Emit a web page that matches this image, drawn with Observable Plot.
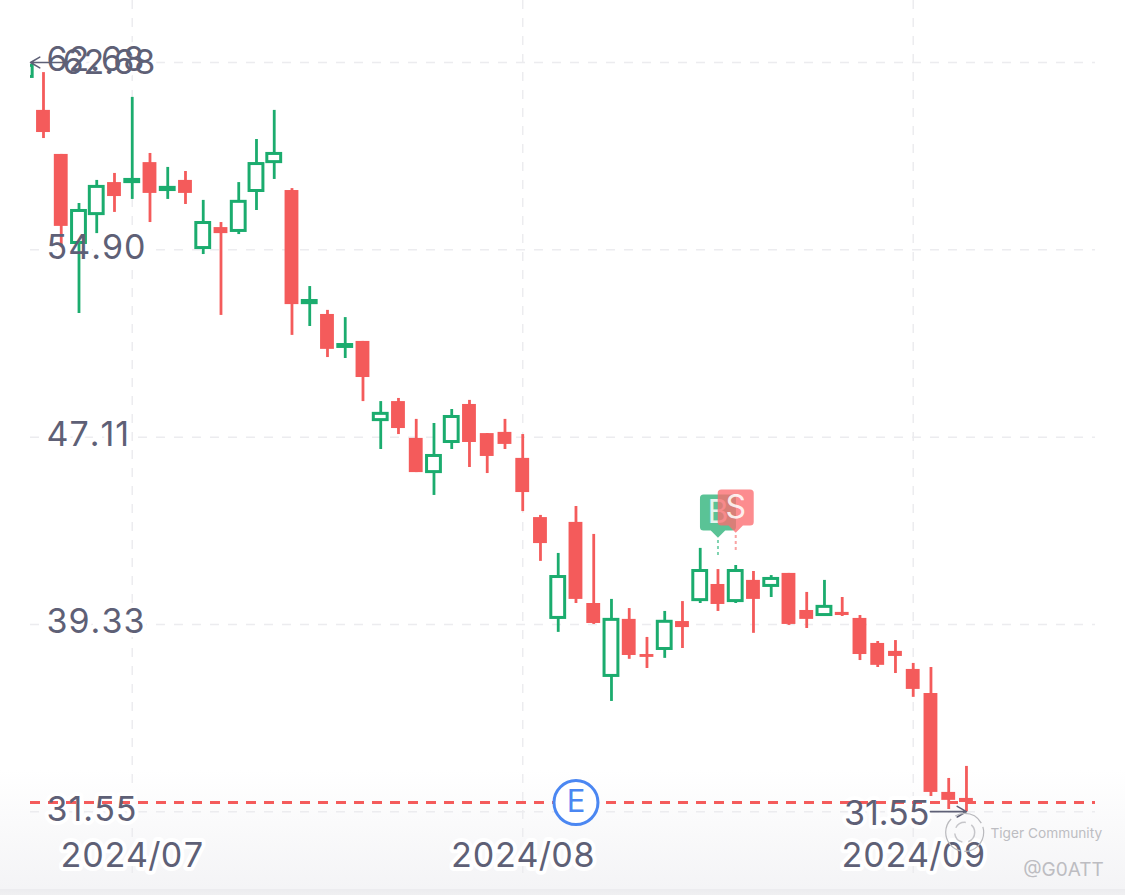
<!DOCTYPE html>
<html><head><meta charset="utf-8">
<script src="https://cdn.jsdelivr.net/npm/d3@7"></script>
<script src="https://cdn.jsdelivr.net/npm/@observablehq/plot@0.6"></script>
<style>
html,body{margin:0;padding:0;width:1125px;height:895px;overflow:hidden;}
body{background:linear-gradient(to bottom,#fff 0,#fff 770px,#f4f4f6 889px,#ececef 889px,#f0f0f2 895px);}
svg{display:block;background:transparent!important;}
[aria-label="y-axis tick label"] text,[aria-label="price label"] text{letter-spacing:1px;font-kerning:none;}
</style></head><body>
<div id="chart"></div>
<script>
const opens=[62.08,60.69,58.86,55.18,56.38,57.69,57.71,58.52,57.38,57.78,54.97,55.82,55.68,57.34,58.54,57.36,52.68,52.21,50.86,51.09,47.82,48.59,47.06,45.66,46.91,48.47,47.26,47.31,46.23,43.77,39.60,43.57,40.20,37.19,39.54,38.08,38.31,39.45,40.34,40.99,40.30,41.16,40.93,41.45,39.91,39.72,39.83,39.58,38.54,38.21,37.46,36.46,32.35,32.10];
const highs=[62.68,62.26,58.86,56.82,57.78,58.07,61.23,58.90,58.32,58.15,56.95,56.03,57.69,59.48,60.69,57.44,53.37,52.38,52.08,51.09,48.59,48.72,47.85,47.68,48.26,48.64,47.26,47.85,47.22,43.86,42.28,44.23,43.07,40.37,39.99,38.79,39.87,40.28,42.49,41.61,41.78,41.53,41.36,41.45,40.66,41.16,40.45,39.70,38.62,38.66,37.71,37.54,32.93,33.43];
const lows=[62.02,59.52,54.99,52.25,55.57,56.45,56.99,56.03,56.99,56.78,54.70,52.17,55.53,56.53,57.82,51.34,51.71,50.42,50.38,48.59,46.60,47.22,45.64,44.69,46.60,45.85,45.60,46.60,44.02,41.95,39.00,40.20,39.33,36.13,37.88,37.50,37.92,38.33,40.20,39.87,40.20,38.96,40.45,39.29,39.16,39.66,39.66,37.83,37.54,37.29,36.30,32.18,31.64,31.55];
const closes=[62.54,59.77,55.87,56.51,57.51,57.11,57.80,57.24,57.47,57.24,56.01,55.57,56.89,58.46,58.88,52.62,52.77,50.76,50.94,49.59,48.08,47.47,45.64,46.33,47.95,46.89,46.31,46.81,44.81,42.69,41.30,40.37,39.37,39.52,38.04,37.96,39.44,39.20,41.55,40.16,41.55,40.37,41.22,39.33,39.54,40.06,39.70,38.08,37.63,38.00,36.63,32.35,32.02,31.93];
const yTicks=[62.68,54.90,47.11,39.33,31.55];
const xTickIndex=[6,28,50];
const xTickLabels=["2024/07","2024/08","2024/09"];
const lastPrice=31.93;
const earnings=[{i:31,price:lastPrice,label:"E"}];
const buy=[{i:39,price:43.98,top:42.82,bottom:42.16,label:"B"}];
const sell=[{i:40,price:44.19,top:43.03,bottom:42.32,label:"S"}];
const highMark=[{from:2.07,to:0.27,price:62.68,label:"62.68"}];
const lowMark=[{from:50.97,to:53,price:31.55,label:"31.55"}];
const watermark=[{i:54.35,price:30.65,label:"Tiger Community",size:13.7},{i:56.2,price:29.15,label:"@G0ATT",size:19}];
const logo=[{i:52.9,price:30.69}];

const RED="#f45b5b",GREEN="#1bac6e",TXT="#5e6076",GRID="#ececef",FONT="Inter, 'Liberation Sans', sans-serif";
const candles=opens.map((o,i)=>({i,open:o,high:highs[i],low:lows[i],close:closes[i]}));
const ups=candles.filter(d=>d.close>d.open), downs=candles.filter(d=>d.close<=d.open);

const badge={draw(ctx,size){
  const r=Math.sqrt(size/Math.PI),c=r*0.2,t=r*0.4;
  ctx.moveTo(-r+c,-r);ctx.lineTo(r-c,-r);ctx.quadraticCurveTo(r,-r,r,-r+c);
  ctx.lineTo(r,r-c);ctx.quadraticCurveTo(r,r,r-c,r);ctx.lineTo(t,r);ctx.lineTo(0,r+t);ctx.lineTo(-t,r);
  ctx.lineTo(-r+c,r);ctx.quadraticCurveTo(-r,r,-r,r-c);ctx.lineTo(-r,-r+c);ctx.quadraticCurveTo(-r,-r,-r+c,-r);ctx.closePath();
}};
const fmt=d3.format(".2f");
const xLab=i=>xTickLabels[xTickIndex.indexOf(i)];
const big={fontSize:34,fontFamily:FONT};
const halo={fill:"#fff",stroke:"#fff",strokeWidth:8};
const yAxisOpts={anchor:"left",tickSize:0,tickPadding:0,textAnchor:"start",dx:16,dy:-2,tickFormat:fmt,label:null,fontVariant:"normal",...big};
const hiOpts={x:"from",y:"price",text:"label",textAnchor:"start",dy:1,ariaLabel:"price label",...big};
const loOpts={x:"from",y:"price",text:"label",textAnchor:"end",dy:2,dx:-1,ariaLabel:"price label",...big};

const plot=Plot.plot({
  width:1125,height:895,marginLeft:30,marginRight:30,marginTop:0,marginBottom:15,
  style:{background:"transparent",fontFamily:FONT},
  x:{type:"linear",domain:[0.268,60.27],axis:null},
  y:{type:"linear",domain:[65.256,28.69],axis:null,range:[0,880]},
  marks:[
    Plot.ruleY(yTicks,{stroke:GRID,strokeWidth:1.5,strokeDasharray:"9 9"}),
    Plot.ruleX(xTickIndex,{stroke:GRID,strokeWidth:1.5,strokeDasharray:"9 9"}),
    // label halos hide the grid but not the candles
    Plot.axisY(yTicks,{...yAxisOpts,fill:"#fff",textStroke:"#fff",textStrokeWidth:8}),
    Plot.axisX(xTickIndex,{anchor:"bottom",tickSize:0,tickPadding:0,dy:-38,tickFormat:xLab,label:null,...big,fill:"#fff",textStroke:"#fff",textStrokeWidth:8}),
    Plot.text(highMark,{...hiOpts,...halo}),
    Plot.text(lowMark,{...loOpts,...halo}),
    // wicks
    Plot.ruleX(downs,{x:"i",y1:"low",y2:"high",stroke:RED,strokeWidth:2.8,clip:"frame"}),
    Plot.ruleX(ups,{x:"i",y1:"low",y2:"high",stroke:GREEN,strokeWidth:2.8,clip:"frame"}),
    // bodies
    Plot.rect(downs,{x1:d=>d.i-0.39,x2:d=>d.i+0.39,y1:"open",y2:"close",fill:RED,clip:"frame"}),
    Plot.rect(ups,{x1:d=>d.i-0.39,x2:d=>d.i+0.39,y1:"open",y2:"close",fill:"#fff",stroke:GREEN,strokeWidth:3,clip:"frame"}),
    // last price
    Plot.ruleY([lastPrice],{stroke:RED,strokeWidth:3,strokeDasharray:"10 8"}),
    // earnings marker
    Plot.dot(earnings,{x:"i",y:"price",r:22,fill:"#fff",stroke:"#4b87f2",strokeWidth:3}),
    Plot.text(earnings,{x:"i",y:"price",text:"label",fill:"#4b87f2",fontSize:31,fontFamily:FONT}),
    // trade markers
    Plot.ruleX(buy,{x:"i",y1:"top",y2:"bottom",stroke:"#7fd3b0",strokeWidth:2,strokeDasharray:"3 3"}),
    Plot.ruleX(sell,{x:"i",y1:"top",y2:"bottom",stroke:"#f9a3a3",strokeWidth:2,strokeDasharray:"3 3"}),
    Plot.dot(buy,{x:"i",y:"price",r:18,symbol:badge,fill:GREEN,fillOpacity:0.72,stroke:"none"}),
    Plot.text(buy,{x:"i",y:"price",text:"label",fill:"#fff",fillOpacity:0.85,fontSize:32,fontFamily:FONT}),
    Plot.dot(sell,{x:"i",y:"price",r:18,symbol:badge,fill:"#fb6b70",fillOpacity:0.78,stroke:"none"}),
    Plot.text(sell,{x:"i",y:"price",text:"label",fill:"#fff",fillOpacity:0.85,fontSize:32,fontFamily:FONT}),
    // extreme arrows
    Plot.arrow(highMark,{x1:"from",x2:"to",y1:"price",y2:"price",stroke:TXT,strokeWidth:1.6,headLength:10,bend:0}),
    Plot.arrow(lowMark,{x1:"from",x2:"to",y1:"price",y2:"price",stroke:TXT,strokeWidth:1.6,headLength:10,bend:0}),
    Plot.text(highMark,{...hiOpts,fill:TXT}),
    Plot.text(lowMark,{...loOpts,fill:TXT}),
    // axes
    Plot.axisY(yTicks,{...yAxisOpts,fill:TXT}),
    Plot.axisX(xTickIndex,{anchor:"bottom",tickSize:0,tickPadding:0,dy:-38,tickFormat:xLab,label:null,...big,fill:TXT}),
    // watermark
    Plot.dot(logo,{x:"i",y:"price",r:19,stroke:"#b9b9bd",strokeWidth:1.2,fill:"none",strokeDasharray:"30 4 40 5"}),
    Plot.dot(logo,{x:"i",y:"price",r:10,stroke:"#c6c6ca",strokeWidth:1.5,fill:"none",strokeDasharray:"12 6"}),
    Plot.text(watermark,{x:"i",y:"price",text:"label",textAnchor:"start",fontSize:"size",fill:"#bdbdc2",fontFamily:FONT})
  ]
});
document.getElementById("chart").appendChild(plot);
</script>
</body></html>
